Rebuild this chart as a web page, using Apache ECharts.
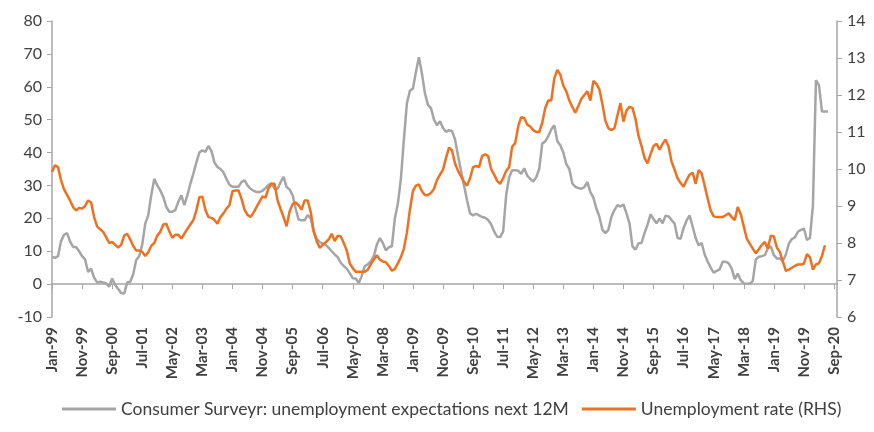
<!DOCTYPE html>
<html>
<head>
<meta charset="utf-8">
<script src="https://cdn.jsdelivr.net/npm/echarts@6/dist/echarts.min.js"></script>
<style>
html,body{margin:0;padding:0;background:#fff;}
#chart{width:874px;height:432px;}
</style>
</head>
<body>
<div id="chart"></div>
<script>
// Month names and year range for category labels (Jan-99 .. Oct-20)
var monthNames = ['Jan','Feb','Mar','Apr','May','Jun','Jul','Aug','Sep','Oct','Nov','Dec'];
var startYear = 1999, monthCount = 262;
var categories = [];
for (var k = 0; k < monthCount; k++) {
  var y = startYear + Math.floor(k / 12);
  categories.push(monthNames[k % 12] + '-' + String(y % 100).padStart(2, '0'));
}

// Consumer survey: unemployment expectations next 12M (left axis), Jan-99 .. Jul-20
var expectations = [
  8.3, 8, 8.5, 13, 15, 15.5, 13, 11.3, 11.3, 10,
  8.5, 7.5, 3.7, 4.7, 2, 0.5, 0.7, 0.5, 0.2, -0.8,
  1.7, -0.3, -1.5, -2.7, -2.9, 0.5, 0.7, 3, 7.3, 8.5,
  12, 18.4, 21, 27, 32, 30, 28.5, 26.5, 23.5, 22,
  22, 22.5, 25, 27, 24, 27, 30.5, 33.6, 37, 40,
  40.7, 40.2, 42, 40.5, 37, 35.6, 35, 34, 32, 30.2,
  29.6, 29.6, 29.6, 31, 31.6, 30, 29, 28.4, 28, 28,
  28.4, 29.2, 30.2, 30.6, 29, 29, 31, 32.6, 29.5, 28.8,
  27, 23, 19.6, 19.4, 19.4, 21, 20, 16, 13.8, 12.8,
  12.3, 11.9, 11, 10, 9, 8.2, 6.5, 5.5, 4.7, 3.3,
  1.8, 1.7, 0.3, 2.5, 5.5, 6, 7, 8.5, 12, 14,
  12.5, 10.3, 11.2, 11.5, 20, 24.5, 32, 44, 55, 58.8,
  59.5, 64.5, 69, 64, 58, 54.5, 53.5, 50, 48.3, 49.5,
  47.5, 46.3, 46.8, 46.5, 44, 39, 34.5, 30, 25.5, 21.5,
  20.9, 21.4, 20.9, 20.4, 20.2, 19.5, 18.2, 16, 14.4, 14.3,
  16, 27, 32.5, 34.6, 34.6, 34.5, 33.5, 35.2, 33, 32,
  31.2, 32.5, 35, 42.8, 43.4, 45, 47, 48.3, 43.5, 42.2,
  40, 36.5, 35, 30.6, 29.6, 29.2, 29, 29.5, 31, 28,
  26.3, 23, 20.5, 16.5, 15.5, 16.5, 20.5, 22.5, 24, 23.6,
  24.2, 21.5, 18.5, 11.5, 10.5, 12.4, 12.5, 15.5, 18, 21.2,
  19.8, 18.5, 19.9, 18.5, 20.8, 20.6, 19.5, 18.4, 14, 13.8,
  17, 19.4, 20.9, 17.5, 14, 11.8, 12.5, 9, 6.9, 5,
  3.5, 4, 4.5, 6.8, 6.8, 6.3, 4.7, 1.5, 3.2, 1.2,
  0.2, 0.1, 0.1, 1, 7.5, 8.3, 8.5, 8.8, 10.8, 11.5,
  8.8, 7.8, 7.8, 7, 9, 12.3, 13.7, 14.2, 15.9, 16.5,
  16.9, 13.4, 14, 24, 62, 60.5, 52.5, 52.5, 52.5
];

// Unemployment rate (right axis), Jan-99 .. Jun-20
var unemploymentRate = [
  9.92, 10.1, 10.05, 9.7, 9.45, 9.3, 9.15, 8.97, 8.88, 8.95,
  8.93, 9.0, 9.15, 9.1, 8.7, 8.45, 8.37, 8.3, 8.16, 8.0,
  8.03, 7.95, 7.88, 7.95, 8.2, 8.25, 8.1, 7.92, 7.8, 7.8,
  7.76, 7.65, 7.75, 7.92, 8.0, 8.2, 8.3, 8.5, 8.52, 8.32,
  8.14, 8.22, 8.22, 8.12, 8.25, 8.38, 8.5, 8.62, 8.88, 9.24,
  9.25, 8.9, 8.7, 8.68, 8.62, 8.52, 8.7, 8.8, 8.93, 9.02,
  9.4, 9.42, 9.42, 9.2, 8.9, 8.76, 8.7, 8.82, 8.97, 9.12,
  9.26, 9.23, 9.48, 9.6, 9.6, 9.15, 8.92, 8.7, 8.45, 8.85,
  9.05, 9.1, 9.02, 8.9, 9.15, 9.15, 8.85, 8.32, 8.05, 7.87,
  7.95, 8.02, 8.1, 8.25, 8.05, 8.2, 8.18, 8.0, 7.8, 7.45,
  7.32, 7.22, 7.22, 7.22, 7.22, 7.28, 7.42, 7.55, 7.67, 7.55,
  7.5, 7.48, 7.38, 7.25, 7.3, 7.45, 7.62, 7.85, 8.28, 8.9,
  9.4, 9.55, 9.58, 9.4, 9.29, 9.3, 9.35, 9.46, 9.7, 9.85,
  9.98, 10.3, 10.58, 10.5, 10.15, 9.95, 9.8, 9.65, 9.55, 9.75,
  10.05, 10.08, 10.05, 10.35, 10.4, 10.35, 10.0, 9.85, 9.68, 9.6,
  9.75, 9.95, 10.05, 10.6, 10.7, 11.15, 11.4, 11.38, 11.2, 11.15,
  11.05, 11.0, 11.0, 11.25, 11.65, 11.85, 11.85, 12.45, 12.68, 12.55,
  12.25, 12.1, 11.85, 11.68, 11.52, 11.7, 11.9, 12.0, 12.1, 11.85,
  12.38, 12.3, 12.15, 11.75, 11.3, 11.1, 11.05, 11.1, 11.45, 11.78,
  11.28, 11.58, 11.68, 11.65, 11.35, 10.9, 10.62, 10.3, 10.15, 10.4,
  10.62, 10.68, 10.52, 10.68, 10.8, 10.6, 10.2, 9.98, 9.75, 9.62,
  9.52, 9.7, 9.85, 9.9, 9.6, 9.97, 9.88, 9.55, 9.2, 8.88,
  8.72, 8.7, 8.7, 8.7, 8.75, 8.8, 8.7, 8.62, 8.97, 8.78,
  8.45, 8.12, 7.98, 7.85, 7.72, 7.83, 7.95, 8.03, 7.85, 8.2,
  8.18, 7.88, 7.76, 7.5, 7.25, 7.28, 7.33, 7.38, 7.42, 7.42,
  7.44, 7.7, 7.62, 7.28, 7.42, 7.45, 7.65, 7.94
];

var leftTicks = { min: -10, max: 80, interval: 10 };
var rightTicks = { min: 6, max: 14, interval: 1 };
var seriesNames = ['Consumer Surveyr: unemployment expectations next 12M', 'Unemployment rate (RHS)'];

var FONT = 'Lato';
var axisGray = '#a6a6a6';
var textColor = '#404040';

var chart = echarts.init(document.getElementById('chart'), null, { renderer: 'canvas' });
chart.setOption({
  animation: false,
  backgroundColor: '#ffffff',
  grid: { left: 52, right: 37, top: 21, bottom: 115, containLabel: false },
  legend: {
    bottom: 9,
    left: 57,
    icon: 'rect',
    itemWidth: 54,
    itemHeight: 3,
    itemGap: 13,
    textStyle: { fontFamily: FONT, fontSize: 17.5, color: textColor },
    data: seriesNames
  },
  xAxis: {
    type: 'category',
    data: categories,
    boundaryGap: false,
    axisLine: { lineStyle: { color: axisGray, width: 1.5 } },
    axisTick: { interval: 9, length: 5, lineStyle: { color: axisGray } },
    axisLabel: {
      interval: 9, rotate: 90, margin: 10,
      fontFamily: FONT, fontSize: 15, fontWeight: 'bold', color: textColor
    },
    splitLine: { show: false }
  },
  yAxis: [
    {
      type: 'value', position: 'left',
      min: leftTicks.min, max: leftTicks.max, interval: leftTicks.interval,
      axisLine: { show: true, lineStyle: { color: axisGray, width: 1.5 } },
      axisTick: { show: true, length: 5, lineStyle: { color: axisGray } },
      axisLabel: { fontFamily: FONT, fontSize: 16, color: textColor, margin: 10 },
      splitLine: { show: false }
    },
    {
      type: 'value', position: 'right',
      min: rightTicks.min, max: rightTicks.max, interval: rightTicks.interval,
      axisLine: { show: true, lineStyle: { color: axisGray, width: 1.5 } },
      axisTick: { show: true, length: 5, lineStyle: { color: axisGray } },
      axisLabel: { fontFamily: FONT, fontSize: 16, color: textColor, margin: 10 },
      splitLine: { show: false }
    }
  ],
  series: [
    {
      name: seriesNames[0], type: 'line', yAxisIndex: 0,
      data: expectations, showSymbol: false, symbol: 'none',
      lineStyle: { color: '#a5a5a5', width: 2.5 },
      itemStyle: { color: '#a5a5a5' }
    },
    {
      name: seriesNames[1], type: 'line', yAxisIndex: 1,
      data: unemploymentRate, showSymbol: false, symbol: 'none',
      lineStyle: { color: '#f07020', width: 2.5 },
      itemStyle: { color: '#f07020' }
    }
  ]
});
</script>
</body>
</html>
